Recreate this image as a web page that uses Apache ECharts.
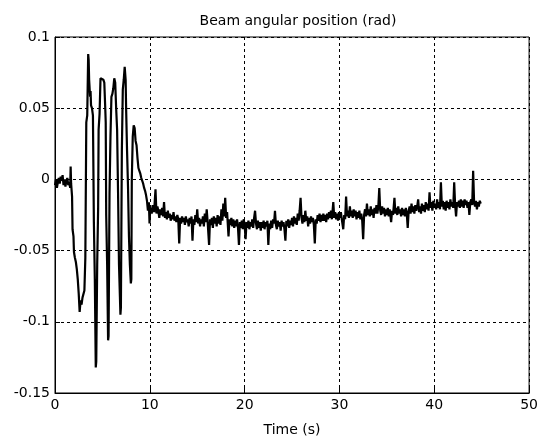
<!DOCTYPE html>
<html>
<head>
<meta charset="utf-8">
<script src="https://cdn.jsdelivr.net/npm/echarts@6/dist/echarts.min.js"></script>
<style>
html,body{margin:0;padding:0;background:#fff;}
#chart{width:541px;height:443px;}
</style>
</head>
<body>
<div id="chart"></div>
<script>
const chartTitle = 'Beam angular position (rad)';
const xAxisName = 'Time (s)';
const xTickLabels = ['0', '10', '20', '30', '40', '50'];
const yTickLabels = ['-0.15', '-0.1', '-0.05', '0', '0.05', '0.1'];

// Start: near zero, then swing-up oscillations (t in s, angle in rad)
const startSegment = [
  [0.0,-0.004],[0.1,0.000],[0.2,-0.006],[0.3,-0.002],[0.4,0.001],[0.5,-0.003],
  [0.6,0.002],[0.7,-0.001],[0.8,0.003],[0.9,-0.004],[1.0,0.000],[1.1,-0.005],
  [1.2,-0.001],[1.3,0.001],[1.4,-0.004],[1.5,-0.002],[1.6,-0.006],[1.65,0.009],
  [1.7,-0.003],[1.8,-0.012],[1.85,-0.035],[1.95,-0.040],[2.0,-0.051],[2.1,-0.055],
  [2.2,-0.058],[2.3,-0.063],[2.4,-0.070],[2.5,-0.080],[2.6,-0.093],[2.7,-0.085],
  [2.8,-0.088],[2.9,-0.083],[3.0,-0.084],[3.1,-0.078],[3.2,-0.055]
];
const oscillationSegment = [
  [3.3,0.040],[3.4,0.045],[3.5,0.088],[3.55,0.084],[3.6,0.070],[3.7,0.058],
  [3.75,0.062],[3.8,0.052],[3.9,0.050],[4.0,0.045],[4.1,-0.030],[4.2,-0.070],
  [4.3,-0.132],[4.35,-0.128],[4.45,-0.060],[4.55,-0.020],[4.6,0.035],[4.7,0.046],
  [4.8,0.071],[4.9,0.072],[5.0,0.071],[5.1,0.070],[5.2,0.068],[5.3,0.050],
  [5.35,0.040],[5.4,-0.025],[5.5,-0.060],[5.6,-0.113],[5.65,-0.110],[5.75,-0.010],
  [5.85,0.030],[5.95,0.058],[6.05,0.060],[6.15,0.064],[6.25,0.071],[6.35,0.068],
  [6.45,0.050],[6.55,0.035],[6.65,-0.009],[6.75,-0.060],[6.9,-0.095],[6.95,-0.090],
  [7.05,0.020],[7.15,0.063],[7.25,0.070],[7.35,0.079],[7.45,0.070],[7.5,0.050],
  [7.6,0.020],[7.7,-0.005],[7.8,-0.040],[7.9,-0.060],[8.0,-0.073],[8.05,-0.070],
  [8.1,0.000],[8.2,0.030],[8.3,0.038],[8.4,0.036],[8.5,0.027],[8.6,0.024],
  [8.7,0.015],[8.8,0.008],[8.9,0.006],[9.0,0.004],[9.1,0.001],[9.2,0.002],
  [9.3,-0.003],[9.4,-0.006],[9.5,-0.008],[9.6,-0.011],[9.7,-0.015],[9.8,-0.022],
  [9.9,-0.016],[9.97,-0.031],[10.05,-0.020],[10.2,-0.024],[10.3,-0.018],[10.45,-0.023]
];
// Settled part: slow drift with sensor noise and spikes
const settledSegment = [
  [10.6,-0.007],[10.7,-0.024],[10.8,-0.019],[10.9,-0.022],[11.0,-0.027],[11.1,-0.021],
  [11.2,-0.025],[11.3,-0.020],[11.4,-0.026],[11.5,-0.016],[11.6,-0.027],[11.7,-0.023],
  [11.8,-0.028],[11.9,-0.022],[12.0,-0.027],[12.1,-0.024],[12.2,-0.029],[12.3,-0.025],
  [12.4,-0.028],[12.5,-0.023],[12.6,-0.029],[12.7,-0.026],[12.8,-0.030],[12.9,-0.025],
  [13.0,-0.028],[13.1,-0.045],[13.2,-0.027],[13.3,-0.031],[13.4,-0.026],[13.5,-0.030],
  [13.6,-0.027],[13.7,-0.032],[13.8,-0.026],[13.9,-0.030],[14.0,-0.028],[14.1,-0.033],
  [14.2,-0.027],[14.3,-0.031],[14.4,-0.026],[14.5,-0.043],[14.6,-0.028],[14.7,-0.032],
  [14.8,-0.025],[14.9,-0.030],[15.0,-0.021],[15.1,-0.031],[15.2,-0.027],[15.3,-0.033],
  [15.4,-0.028],[15.5,-0.031],[15.6,-0.026],[15.7,-0.033],[15.8,-0.024],[15.9,-0.030],
  [16.0,-0.021],[16.1,-0.030],[16.25,-0.046],[16.35,-0.028],[16.45,-0.032],[16.55,-0.027],
  [16.65,-0.034],[16.75,-0.026],[16.85,-0.031],[16.95,-0.027],[17.05,-0.033],[17.15,-0.025],
  [17.25,-0.031],[17.35,-0.026],[17.45,-0.032],[17.55,-0.021],[17.65,-0.029],[17.75,-0.017],
  [17.85,-0.026],[17.95,-0.013],[18.05,-0.027],[18.15,-0.023],[18.3,-0.040],[18.4,-0.028],
  [18.5,-0.032],[18.6,-0.027],[18.7,-0.033],[18.8,-0.028],[18.9,-0.034],[19.0,-0.029],
  [19.1,-0.033],[19.2,-0.028],[19.3,-0.034],[19.4,-0.046],[19.5,-0.030],[19.6,-0.034],
  [19.7,-0.029],[19.8,-0.035],[19.9,-0.028],[20.0,-0.032],[20.1,-0.042],[20.2,-0.030],
  [20.3,-0.034],[20.4,-0.029],[20.5,-0.035],[20.6,-0.030],[20.7,-0.033],[20.8,-0.028],
  [20.9,-0.034],[21.0,-0.027],[21.1,-0.022],[21.2,-0.031],[21.3,-0.035],[21.4,-0.029],
  [21.5,-0.034],[21.6,-0.030],[21.7,-0.036],[21.8,-0.030],[21.9,-0.034],[22.0,-0.029],
  [22.1,-0.035],[22.2,-0.030],[22.3,-0.033],[22.4,-0.029],[22.5,-0.046],[22.6,-0.031],
  [22.7,-0.035],[22.8,-0.029],[22.9,-0.034],[23.0,-0.028],[23.1,-0.031],[23.2,-0.022],
  [23.3,-0.032],[23.4,-0.035],[23.5,-0.029],[23.6,-0.033],[23.7,-0.030],[23.8,-0.036],
  [23.9,-0.029],[24.0,-0.033],[24.1,-0.030],[24.2,-0.035],[24.3,-0.043],[24.4,-0.029],
  [24.5,-0.033],[24.6,-0.028],[24.7,-0.034],[24.8,-0.029],[24.9,-0.032],[25.0,-0.027],
  [25.1,-0.033],[25.2,-0.026],[25.3,-0.031],[25.4,-0.027],[25.5,-0.032],[25.6,-0.024],
  [25.7,-0.029],[25.8,-0.022],[25.9,-0.013],[26.0,-0.027],[26.1,-0.031],[26.2,-0.025],
  [26.3,-0.030],[26.4,-0.022],[26.5,-0.029],[26.6,-0.026],[26.7,-0.033],[26.8,-0.027],
  [26.9,-0.031],[27.0,-0.026],[27.1,-0.030],[27.2,-0.027],[27.3,-0.032],[27.4,-0.045],
  [27.5,-0.028],[27.6,-0.031],[27.7,-0.025],[27.8,-0.029],[27.9,-0.024],[28.0,-0.030],
  [28.1,-0.025],[28.2,-0.029],[28.3,-0.024],[28.4,-0.029],[28.5,-0.025],[28.6,-0.030],
  [28.7,-0.024],[28.8,-0.028],[28.9,-0.023],[29.0,-0.027],[29.1,-0.022],[29.2,-0.028],
  [29.35,-0.016],[29.45,-0.027],[29.55,-0.023],[29.65,-0.028],[29.75,-0.024],[29.85,-0.029],
  [29.95,-0.023],[30.05,-0.027],[30.15,-0.023],[30.25,-0.028],[30.4,-0.035],[30.5,-0.025],
  [30.6,-0.028],[30.7,-0.012],[30.8,-0.026],[30.9,-0.022],[31.0,-0.027],[31.1,-0.019],
  [31.2,-0.026],[31.3,-0.022],[31.4,-0.027],[31.5,-0.021],[31.6,-0.026],[31.7,-0.022],
  [31.8,-0.028],[31.9,-0.023],[32.0,-0.027],[32.1,-0.022],[32.2,-0.028],[32.3,-0.024],
  [32.4,-0.029],[32.5,-0.042],[32.6,-0.025],[32.7,-0.021],[32.8,-0.026],[32.9,-0.017],
  [33.0,-0.025],[33.1,-0.021],[33.2,-0.026],[33.3,-0.019],[33.4,-0.025],[33.5,-0.021],
  [33.6,-0.027],[33.7,-0.020],[33.8,-0.024],[33.9,-0.018],[34.0,-0.024],[34.1,-0.019],
  [34.2,-0.006],[34.3,-0.022],[34.4,-0.025],[34.5,-0.019],[34.6,-0.024],[34.7,-0.020],
  [34.8,-0.026],[34.9,-0.021],[35.0,-0.025],[35.1,-0.020],[35.2,-0.026],[35.3,-0.021],
  [35.45,-0.030],[35.55,-0.022],[35.65,-0.025],[35.8,-0.013],[35.9,-0.024],[36.0,-0.020],
  [36.1,-0.025],[36.2,-0.019],[36.3,-0.024],[36.4,-0.021],[36.5,-0.026],[36.6,-0.020],
  [36.7,-0.025],[36.8,-0.021],[36.9,-0.026],[37.0,-0.020],[37.1,-0.024],[37.2,-0.034],
  [37.3,-0.022],[37.4,-0.019],[37.5,-0.024],[37.6,-0.017],[37.7,-0.023],[37.8,-0.019],
  [37.9,-0.024],[38.0,-0.018],[38.1,-0.022],[38.2,-0.019],[38.3,-0.014],[38.4,-0.023],
  [38.5,-0.019],[38.6,-0.024],[38.7,-0.017],[38.8,-0.022],[38.9,-0.018],[39.0,-0.023],
  [39.1,-0.016],[39.2,-0.021],[39.3,-0.017],[39.4,-0.022],[39.5,-0.009],[39.6,-0.020],
  [39.7,-0.016],[39.8,-0.022],[39.9,-0.015],[40.0,-0.020],[40.1,-0.017],[40.2,-0.021],
  [40.3,-0.014],[40.4,-0.020],[40.5,-0.016],[40.6,-0.021],[40.7,-0.002],[40.8,-0.019],
  [40.9,-0.015],[41.0,-0.021],[41.1,-0.016],[41.2,-0.022],[41.3,-0.015],[41.4,-0.020],
  [41.5,-0.016],[41.6,-0.021],[41.7,-0.014],[41.8,-0.019],[41.9,-0.016],[42.0,-0.020],
  [42.1,-0.002],[42.2,-0.018],[42.3,-0.026],[42.4,-0.016],[42.5,-0.019],[42.6,-0.015],
  [42.7,-0.020],[42.8,-0.014],[42.9,-0.019],[43.0,-0.015],[43.1,-0.020],[43.2,-0.014],
  [43.3,-0.018],[43.4,-0.015],[43.5,-0.020],[43.6,-0.016],[43.7,-0.025],[43.8,-0.016],
  [43.9,-0.014],[44.0,-0.018],[44.1,0.006],[44.2,-0.016],[44.3,-0.019],[44.4,-0.015],
  [44.5,-0.021],[44.6,-0.016],[44.7,-0.019],[44.8,-0.015],[44.9,-0.017]
];

const beamAngle = startSegment.concat(oscillationSegment, settledSegment);

const FONT = '"DejaVu Sans", sans-serif';
const chart = echarts.init(document.getElementById('chart'), null, {renderer: 'canvas'});
chart.setOption({
  animation: false,
  backgroundColor: '#fff',
  title: {
    text: chartTitle,
    left: 293, top: 9, textAlign: 'center',
    textStyle: {fontFamily: FONT, fontSize: 14, fontWeight: 'normal', color: '#000'}
  },
  grid: {left: 55, right: 9, top: 37, bottom: 50, show: true, borderColor: '#000', borderWidth: 1, backgroundColor: '#fff'},
  xAxis: {
    type: 'value', min: 0, max: 50, interval: 10,
    name: xAxisName, nameLocation: 'middle', nameGap: 30,
    nameTextStyle: {fontFamily: FONT, fontSize: 14, color: '#000'},
    axisLine: {show: true, onZero: false, lineStyle: {color: '#000', width: 1}},
    axisTick: {show: true, inside: true, length: 5, lineStyle: {color: '#000'}},
    axisLabel: {fontFamily: FONT, fontSize: 14, color: '#000', margin: 5,
      formatter: (v, i) => xTickLabels[i]},
    splitLine: {show: true, lineStyle: {color: '#000', type: [3, 3], width: 1}}
  },
  yAxis: {
    type: 'value', min: -0.15, max: 0.1, interval: 0.05,
    axisLine: {show: true, onZero: false, lineStyle: {color: '#000', width: 1}},
    axisTick: {show: true, inside: true, length: 5, lineStyle: {color: '#000'}},
    axisLabel: {fontFamily: FONT, fontSize: 14, color: '#000', margin: 5,
      formatter: (v, i) => yTickLabels[i]},
    splitLine: {show: true, lineStyle: {color: '#000', type: [3, 3], width: 1}}
  },
  series: [{
    type: 'line',
    data: beamAngle,
    showSymbol: false,
    symbol: 'none',
    lineStyle: {color: '#000', width: 2.2},
    z: 3
  }]
});
</script>
</body>
</html>
